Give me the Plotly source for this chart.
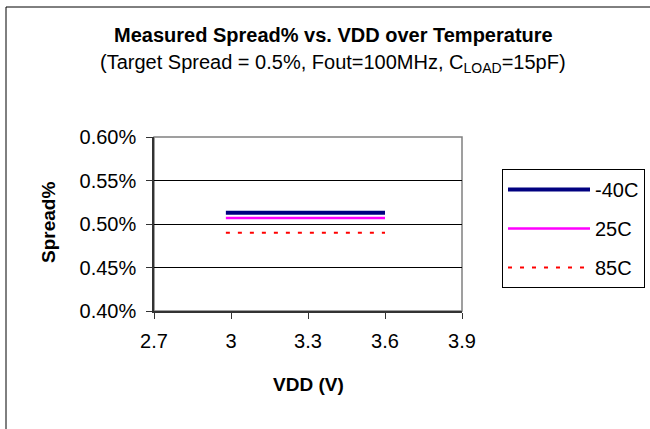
"""Measured spread% vs VDD over temperature."""
import plotly.graph_objects as go

FONT = "Liberation Sans, Arial, sans-serif"

VDD = [2.98, 3.3, 3.6]
SPREAD_M40C = [0.00513, 0.00513, 0.00513]
SPREAD_25C = [0.00507, 0.00507, 0.00507]
SPREAD_85C = [0.00490, 0.00490, 0.00490]

X_TICKS = [2.7, 3.0, 3.3, 3.6, 3.9]
X_TICK_TEXT = ["2.7", "3", "3.3", "3.6", "3.9"]
Y_TICKS = [0.004, 0.0045, 0.005, 0.0055, 0.006]

SERIES = [
    ("-40C", SPREAD_M40C, dict(color="#000080", width=4)),
    ("25C", SPREAD_25C, dict(color="#FF00FF", width=2.5)),
    ("85C", SPREAD_85C, dict(color="#FF0000", width=2, dash="4px,8px")),
]

# plot area in pixels: x 154..462, y 137..311
W, H = 650, 429
L, R, T, B = 154, 188, 137, 118
PW, PH = W - L - R, H - T - B


def px(x):
    return (x - L) / PW


def py(y):
    return (H - B - y) / PH


def label(text, x, y, size, angle=0):
    fig.add_annotation(
        text=text, textangle=angle, xref="paper", yref="paper",
        x=px(x), y=py(y), xanchor="center", yanchor="middle", showarrow=False,
        font=dict(size=size, family=FONT, color="#000000"),
    )


fig = go.Figure()
for i, (name, vals, line) in enumerate(SERIES):
    fig.add_trace(
        go.Scatter(
            x=VDD, y=vals, mode="lines", name=name, line=line,
            legendgroup=f"g{i}",
        )
    )

# outer chart border
fig.add_shape(type="rect", xref="paper", yref="paper",
              x0=px(6), x1=px(700), y0=py(7), y1=py(470),
              line=dict(color="#000000", width=1), layer="below")
# plot area border (top/right grey)
fig.add_shape(type="rect", xref="paper", yref="paper",
              x0=0, x1=1, y0=0, y1=1,
              line=dict(color="#808080", width=1.5), layer="below")

label("<b>Measured Spread% vs. VDD over Temperature</b>", 333, 35, 20)
label("(Target Spread = 0.5%, Fout=100MHz, C<sub>LOAD</sub>=15pF)", 333, 63, 20)
label("<b>VDD (V)</b>", 308, 384, 19)
label("<b>Spread%</b>", 48, 223, 19, angle=-90)

fig.update_xaxes(
    range=[2.7, 3.9], tickvals=X_TICKS, ticktext=X_TICK_TEXT,
    showgrid=False, zeroline=False, showline=True, linecolor="#333333", linewidth=1.5,
    ticks="outside", ticklen=6, tickcolor="#333333", ticklabelstandoff=5,
    tickfont=dict(size=20, family=FONT, color="#000000"),
)
fig.update_yaxes(
    range=[0.004, 0.006], tickvals=Y_TICKS, tickformat=".2%",
    showgrid=True, gridcolor="#000000", gridwidth=1, zeroline=False,
    showline=True, linecolor="#333333", linewidth=1.5,
    ticks="outside", ticklen=6, tickcolor="#333333", ticklabelstandoff=6,
    tickfont=dict(size=20, family=FONT, color="#000000"),
)

fig.update_layout(
    width=W, height=H,
    margin=dict(l=L, r=R, t=T, b=B, autoexpand=False),
    paper_bgcolor="#FFFFFF", plot_bgcolor="#FFFFFF",
    font=dict(family=FONT, color="#000000"),
    showlegend=True,
    legend=dict(
        x=px(502), y=py(169), xanchor="left", yanchor="top",
        bordercolor="#000000", borderwidth=1, bgcolor="#FFFFFF",
        font=dict(size=20, family=FONT, color="#000000"),
        traceorder="grouped", tracegroupgap=10, itemwidth=82,
    ),
)

# drop the page's default body margin so the figure sits at the window's corner
fig.write_html(
    "out.html",
    config={"displayModeBar": False},
    post_script="document.body.style.margin='0';",
)
